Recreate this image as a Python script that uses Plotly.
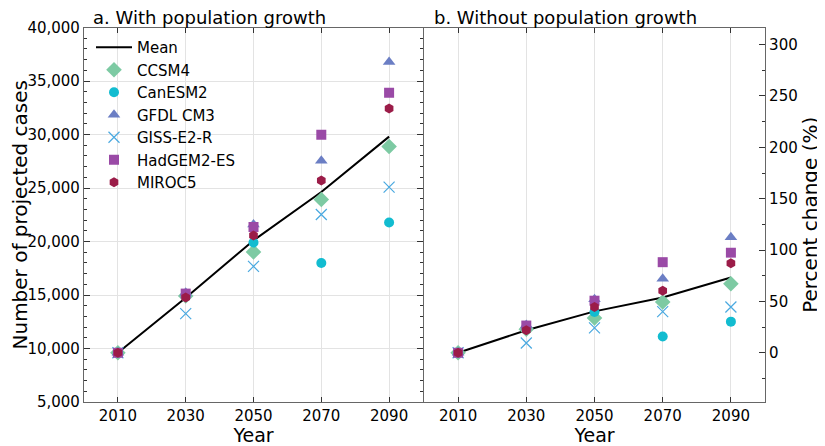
import plotly.graph_objects as go

years = [2010, 2030, 2050, 2070, 2090]
models = ["CCSM4", "CanESM2", "GFDL CM3", "GISS-E2-R", "HadGEM2-ES", "MIROC5"]

# Panel a: projected cases with population growth
mean_a = [9600, 14750, 20100, 24620, 29800]
ccsm4_a = [9600, 14900, 19020, 23920, 28880]
canesm2_a = [9600, 15000, 19900, 17990, 21770]
gfdl_a = [9600, 15200, 21600, 27540, 36770]
giss_a = [9600, 13260, 17680, 22520, 25080]
hadgem_a = [9600, 15130, 21360, 29970, 33900]
miroc_a = [9600, 14760, 20560, 25700, 32440]

# Panel b: percent change without population growth
mean_b = [0, 22, 40.3, 53.9, 73.3]
ccsm4_b = [0, 23, 33.9, 49.4, 67.2]
canesm2_b = [0, 24.5, 39.7, 15.8, 30.3]
gfdl_b = [0, 27, 52, 72, 112.4]
giss_b = [0, 9.5, 24.2, 40, 44.6]
hadgem_b = [0, 26.5, 50.7, 88.2, 97.5]
miroc_b = [0, 22, 44.6, 60.4, 87.2]

left_ticks = [5000, 10000, 15000, 20000, 25000, 30000, 35000, 40000]
right_ticks = [0, 50, 100, 150, 200, 250, 300]
x_ticks = [2010, 2030, 2050, 2070, 2090]

base = 9600
FONT = "DejaVu Sans"

styles = {
    "CCSM4": dict(symbol="diamond", size=12, color="#7dcaa3"),
    "CanESM2": dict(symbol="circle", size=10, color="#12bcd0"),
    "GFDL CM3": dict(symbol="triangle-up", size=11, color="#6b7ec4"),
    "GISS-E2-R": dict(symbol="x-thin-open", size=11, color="#4aa9e0"),
    "HadGEM2-ES": dict(symbol="square", size=10, color="#9a4aa6"),
    "MIROC5": dict(symbol="hexagon", size=10, color="#9b1c48"),
}
data_a = [ccsm4_a, canesm2_a, gfdl_a, giss_a, hadgem_a, miroc_a]
data_b = [ccsm4_b, canesm2_b, gfdl_b, giss_b, hadgem_b, miroc_b]

fig = go.Figure()

fig.add_trace(go.Scatter(x=years, y=mean_a, mode="lines", name="Mean",
                         line=dict(color="black", width=2), xaxis="x", yaxis="y"))
fig.add_trace(go.Scatter(x=years, y=mean_b, mode="lines", name="Mean", showlegend=False,
                         line=dict(color="black", width=2), xaxis="x2", yaxis="y3"))

for m, ya, yb in zip(models, data_a, data_b):
    s = styles[m]
    if s["symbol"] == "x-thin-open":
        mk = dict(symbol=s["symbol"], size=s["size"], color=s["color"],
                  line=dict(width=1.2, color=s["color"]))
    else:
        mk = dict(symbol=s["symbol"], size=s["size"], color=s["color"], line=dict(width=0))
    fig.add_trace(go.Scatter(x=years, y=ya, mode="markers", name=m, marker=mk,
                             xaxis="x", yaxis="y"))
    fig.add_trace(go.Scatter(x=years, y=yb, mode="markers", name=m, marker=mk,
                             showlegend=False, xaxis="x2", yaxis="y3"))

# page body has an 8px margin; the figure is sized to fit the 825x446 window
OFF = 8
W, H = 825 - OFF, 446 - OFF


def fx(p):
    return (p - OFF) / W


def fy(p):
    return 1 - (p - OFF) / H


ydom = [fy(402), fy(27.5)]
AX = "#666666"
GRID = "#e3e3e3"
TICKF = dict(family=FONT, size=15, color="black")
TITLEF = dict(family=FONT, size=20, color="black")

common_x = dict(range=[2000, 2100], tickvals=x_ticks, ticks="inside", ticklen=5,
                tickcolor="#333", showline=True, linecolor=AX, linewidth=1.2,
                mirror="ticks", showgrid=True, gridcolor=GRID, gridwidth=1,
                zeroline=False, tickfont=TICKF, automargin=False,
                title=dict(text="Year", font=dict(family=FONT, size=19, color="black"), standoff=9))

fig.update_layout(
    width=W, height=H,
    margin=dict(l=0, r=0, t=0, b=0),
    paper_bgcolor="white", plot_bgcolor="white",
    font=dict(family=FONT, color="black"),
    xaxis=dict(domain=[fx(84), fx(423)], anchor="y", **common_x),
    xaxis2=dict(domain=[fx(424), fx(765)], anchor="y2", **common_x),
    yaxis=dict(domain=ydom, anchor="x", range=[5000, 40000], tickvals=left_ticks,
               tickformat=",", ticks="inside", ticklen=6, tickcolor="#333",
               minor=dict(dtick=1000, ticks="inside", ticklen=3, tickcolor="#333", showgrid=False),
               showline=True, linecolor=AX, linewidth=1.2, mirror="ticks",
               showgrid=True, gridcolor=GRID, zeroline=False, automargin=False,
               tickfont=TICKF,
               title=dict(text="Number of projected cases", font=TITLEF, standoff=10)),
    yaxis2=dict(domain=ydom, anchor="x2", range=[5000, 40000], tickvals=left_ticks,
                showticklabels=False, ticks="inside", ticklen=6, tickcolor="#333",
                minor=dict(dtick=1000, ticks="inside", ticklen=3, tickcolor="#333", showgrid=False),
                showline=True, linecolor=AX, linewidth=1.2, automargin=False,
                showgrid=True, gridcolor=GRID, zeroline=False),
    yaxis3=dict(domain=ydom, overlaying="y2", anchor="x2", side="right",
                range=[(5000 / base - 1) * 100, (40000 / base - 1) * 100],
                tickvals=right_ticks, ticks="inside", ticklen=6, tickcolor="#333",
                minor=dict(dtick=25, ticks="inside", ticklen=3, tickcolor="#333", showgrid=False),
                showline=True, linecolor=AX, linewidth=1.2, showgrid=False, zeroline=False,
                automargin=False, tickfont=TICKF,
                title=dict(text="Percent change (%)", font=TITLEF, standoff=6)),
    legend=dict(x=fx(91), y=fy(31), xanchor="left", yanchor="top",
                bgcolor="rgba(0,0,0,0)", font=dict(family=FONT, size=15, color="black"),
                itemwidth=36),
    annotations=[
        dict(text="a. With population growth", x=fx(91), y=fy(17.5), xref="paper", yref="paper",
             xanchor="left", yanchor="middle", showarrow=False,
             font=dict(family=FONT, size=18, color="black")),
        dict(text="b. Without population growth", x=fx(432), y=fy(17.5), xref="paper", yref="paper",
             xanchor="left", yanchor="middle", showarrow=False,
             font=dict(family=FONT, size=18, color="black")),
    ],
)

fig.write_html("out.html")
